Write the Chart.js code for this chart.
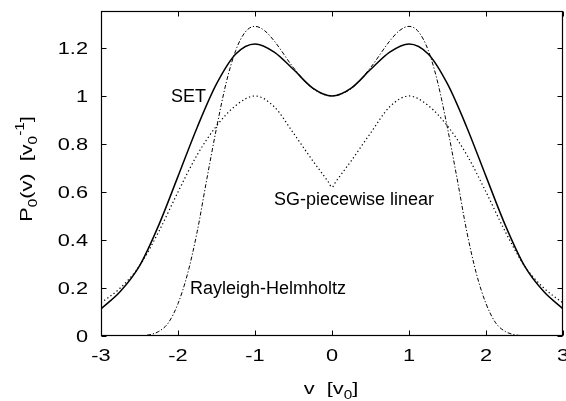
<!DOCTYPE html>
<html>
<head>
<meta charset="utf-8">
<script src="https://cdn.jsdelivr.net/npm/chart.js@4/dist/chart.umd.min.js"></script>
<style>
  html, body { margin: 0; padding: 0; background: #fff; }
  #wrap { width: 566px; height: 401px; }
</style>
</head>
<body>
<div id="wrap"><canvas id="c" width="566" height="401"></canvas></div>
<script>
// ---- data ----
const setX = [-3,-2.75,-2.5,-2.25,-2,-1.75,-1.5,-1.25,-1,-0.75,-0.5,-0.25,0,0.25,0.5,0.75,1,1.25,1.5,1.75,2,2.25,2.5,2.75,3];
const setVals = [0.113,0.185,0.292,0.462,0.665,0.87,1.05,1.175,1.217,1.183,1.11,1.033,1.0,1.033,1.11,1.183,1.217,1.175,1.05,0.87,0.665,0.462,0.292,0.185,0.113];

const sgX = [-3,-2.75,-2.5,-2.25,-2,-1.75,-1.5,-1.25,-1,-0.75,-0.5,-0.25,-0.05,0,0.05,0.25,0.5,0.75,1,1.25,1.5,1.75,2,2.25,2.5,2.75,3];
const sgVals = [0.138,0.2,0.292,0.435,0.6,0.755,0.875,0.96,1.0,0.955,0.845,0.73,0.643,0.62,0.643,0.73,0.845,0.955,1.0,0.96,0.875,0.755,0.6,0.435,0.292,0.2,0.138];

const rhX = [-3,-2.75,-2.5,-2.375,-2.25,-2.125,-2,-1.875,-1.75,-1.625,-1.5,-1.375,-1.25,-1.125,-1,-0.875,-0.75,-0.5,-0.25,0,0.25,0.5,0.75,0.875,1,1.125,1.25,1.375,1.5,1.625,1.75,1.875,2,2.125,2.25,2.375,2.5,2.75,3];
const rhVals = [0,0,0.001,0.005,0.019,0.055,0.135,0.26,0.436,0.655,0.866,1.054,1.19,1.267,1.29,1.272,1.229,1.118,1.031,1.0,1.031,1.118,1.229,1.272,1.29,1.267,1.19,1.054,0.866,0.655,0.436,0.26,0.135,0.055,0.019,0.005,0.001,0,0];

const xTicks = [-3,-2,-1,0,1,2,3];
const yTicks = [0,0.2,0.4,0.6,0.8,1,1.2];
const xRange = [-3, 3];
const yRange = [0, 1.354];

const curveLabels = [
  { text: 'SET', x: -2.09, y: 0.975 },
  { text: 'SG-piecewise linear', x: -0.753, y: 0.544 },
  { text: 'Rayleigh-Helmholtz', x: -1.844, y: 0.174 }
];

const FONT = '"Liberation Sans", Arial, Helvetica, sans-serif';
const TICK_SIZE = 17;
const STRETCH = 1.28;

function pts(xs, ys) { return xs.map((x, i) => ({ x: x, y: ys[i] })); }

const framePlugin = {
  id: 'frame',
  afterDraw(chart) {
    const ctx = chart.ctx;
    const a = chart.chartArea;
    const sx = chart.scales.x, sy = chart.scales.y;
    ctx.save();
    ctx.strokeStyle = '#000';
    ctx.lineWidth = 1.2;
    const L = Math.round(a.left) + 0.5, R = Math.round(a.right) - 0.5;
    const T = Math.round(a.top) + 0.5, B = Math.round(a.bottom) - 0.5;
    ctx.strokeRect(L, T, R - L, B - T);
    // inward ticks on all four sides
    ctx.lineWidth = 1;
    ctx.beginPath();
    const tl = 5;
    xTicks.forEach(v => {
      const px = Math.round(sx.getPixelForValue(v)) + 0.5;
      ctx.moveTo(px, B); ctx.lineTo(px, B - tl);
      ctx.moveTo(px, T); ctx.lineTo(px, T + tl);
    });
    yTicks.forEach(v => {
      const py = Math.round(sy.getPixelForValue(v)) + 0.5;
      ctx.moveTo(L, py); ctx.lineTo(L + tl, py);
      ctx.moveTo(R, py); ctx.lineTo(R - tl, py);
    });
    ctx.stroke();

    ctx.fillStyle = '#000';
    ctx.textBaseline = 'alphabetic';
    ctx.textAlign = 'left';

    // stretched text helper
    function sText(t, x, y, size, k) {
      ctx.font = size + 'px ' + FONT;
      ctx.save();
      ctx.translate(x, y);
      ctx.scale(k, 1);
      ctx.fillText(t, 0, 0);
      ctx.restore();
      return ctx.measureText(t).width * k;
    }
    function sWidth(t, size, k) {
      ctx.font = size + 'px ' + FONT;
      return ctx.measureText(t).width * k;
    }

    // tick labels
    xTicks.forEach(v => {
      const t = String(v);
      const w = sWidth(t, TICK_SIZE, STRETCH);
      sText(t, sx.getPixelForValue(v) - w / 2, 361, TICK_SIZE, STRETCH);
    });
    yTicks.forEach(v => {
      const t = String(v);
      const w = sWidth(t, TICK_SIZE, STRETCH);
      sText(t, 88 - w, sy.getPixelForValue(v) + 6, TICK_SIZE, STRETCH);
    });

    // curve labels
    ctx.font = '18px ' + FONT;
    curveLabels.forEach(l => {
      ctx.fillText(l.text, sx.getPixelForValue(l.x), sy.getPixelForValue(l.y));
    });

    // axis titles with sub/superscripts
    function runs(parts, x0, y0) {
      let x = x0;
      parts.forEach(p => {
        const size = p.s ? 12 : 17;
        x += sText(p.t, x, y0 + (p.s === 'sub' ? 5 : (p.s === 'sup' ? -8 : 0)), size, STRETCH);
      });
      return x - x0;
    }
    function width(parts) {
      let w = 0;
      parts.forEach(p => { w += sWidth(p.t, p.s ? 12 : 17, STRETCH); });
      return w;
    }
    const xt = [{ t: 'v  [v' }, { t: '0', s: 'sub' }, { t: ']' }];
    const xw = width(xt);
    runs(xt, (a.left + a.right) / 2 - xw / 2 - 1, 394);

    const yt = [{ t: 'P' }, { t: '0', s: 'sub' }, { t: '(v)  [v' }, { t: '0', s: 'sub' }, { t: '-1', s: 'sup' }, { t: ']' }];
    const yw = width(yt);
    ctx.save();
    ctx.translate(32, 169);
    ctx.rotate(-Math.PI / 2);
    runs(yt, -yw / 2, 0);
    ctx.restore();
    ctx.restore();
  }
};

new Chart(document.getElementById('c'), {
  type: 'line',
  data: {
    datasets: [
      { label: 'SET', data: pts(setX, setVals), borderColor: '#000', borderWidth: 1.5, pointRadius: 0, cubicInterpolationMode: 'monotone', fill: false },
      { label: 'SG-piecewise linear', data: pts(sgX, sgVals), borderColor: '#000', borderWidth: 1.2, borderDash: [1.3, 2.6], pointRadius: 0, cubicInterpolationMode: 'monotone', fill: false },
      { label: 'Rayleigh-Helmholtz', data: pts(rhX, rhVals), borderColor: '#000', borderWidth: 1, borderDash: [4, 2, 1.2, 2], pointRadius: 0, cubicInterpolationMode: 'monotone', fill: false }
    ]
  },
  options: {
    responsive: false,
    animation: false,
    devicePixelRatio: 1,
    layout: { padding: { top: 11, right: 3, left: 0, bottom: 0 } },
    plugins: { legend: { display: false }, tooltip: { enabled: false } },
    scales: {
      x: {
        type: 'linear', min: xRange[0], max: xRange[1],
        grid: { display: false, drawTicks: false },
        border: { display: false },
        afterBuildTicks(s) { s.ticks = xTicks.map(v => ({ value: v })); },
        afterFit(s) { s.height = 65; s.paddingLeft = 0; s.paddingRight = 0; },
        ticks: { display: false }
      },
      y: {
        type: 'linear', min: yRange[0], max: yRange[1],
        grid: { display: false, drawTicks: false },
        border: { display: false },
        afterBuildTicks(s) { s.ticks = yTicks.map(v => ({ value: v })); },
        afterFit(s) { s.width = 101; s.paddingTop = 0; s.paddingBottom = 0; },
        ticks: { display: false }
      }
    }
  },
  plugins: [framePlugin]
});
</script>
</body>
</html>
